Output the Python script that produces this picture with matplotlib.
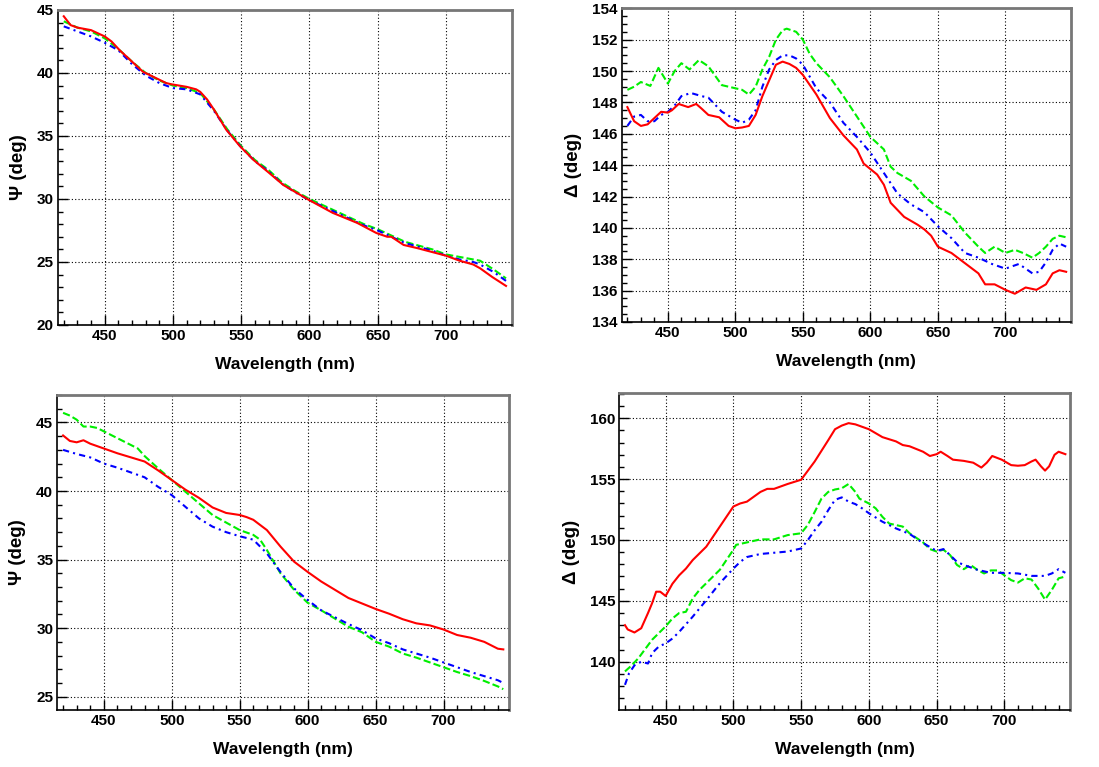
import matplotlib
matplotlib.use("Agg")
import matplotlib.pyplot as plt
from matplotlib.ticker import MultipleLocator

plt.rcParams['font.family'] = ['Liberation Sans', 'DejaVu Sans']
plt.rcParams['font.weight'] = 'bold'

# ---- data ----
# top left: Psi
wl_psi1 = [420, 425, 430, 440, 450, 455, 461, 466, 478, 495, 499, 510, 517, 520, 525, 530, 539, 549, 559, 569,
           581, 600, 617, 635, 649, 657, 660, 669, 679, 700, 710, 720, 725, 734, 744]
psi1_red = [44.5, 43.8, 43.6, 43.4, 42.9, 42.5, 41.8, 41.3, 40.1, 39.2, 39.1, 38.9, 38.7, 38.5, 37.9, 37.1, 35.5,
            34.2, 33.1, 32.2, 31.1, 29.9, 28.9, 28.1, 27.3, 27.0, 27.0, 26.35, 26.1, 25.5, 25.1, 24.8, 24.5, 23.8, 23.1]
wl_psi1b = [420, 430, 440, 450, 460, 470, 480, 490, 500, 510, 520, 530, 540, 550, 560, 570, 580, 590, 600, 620,
            640, 650, 660, 670, 680, 690, 700, 710, 720, 725, 735, 744]
psi1_green = [44.1, 43.6, 43.3, 42.75, 41.9, 40.9, 40.0, 39.4, 39.0, 38.8, 38.4, 37.1, 35.5, 34.2, 33.1, 32.3,
              31.3, 30.6, 30.0, 29.0, 28.0, 27.6, 27.1, 26.6, 26.3, 26.0, 25.6, 25.4, 25.2, 25.1, 24.4, 23.7]
psi1_blue = [43.7, 43.3, 42.9, 42.4, 41.8, 40.7, 39.8, 39.2, 38.8, 38.7, 38.3, 37.0, 35.4, 34.1, 33.0, 32.2,
             31.2, 30.5, 29.9, 28.9, 27.9, 27.5, 27.0, 26.5, 26.2, 25.9, 25.5, 25.2, 25.0, 24.8, 24.2, 23.5]

# top right: Delta
wl_del1g = [420, 425, 430, 437, 443, 450, 455, 460, 466, 473, 480, 490, 500, 505, 510, 515, 520, 525, 530, 535,
            538, 545, 550, 555, 560, 570, 580, 590, 600, 610, 615, 620, 630, 640, 650, 660, 670, 680, 685, 692,
            700, 707, 713, 720, 725, 730, 735, 740, 745]
del1_green = [148.8, 149.0, 149.3, 149.05, 150.2, 149.2, 150.0, 150.5, 150.1, 150.7, 150.3, 149.1, 148.9, 148.8,
              148.5, 149.0, 150.1, 150.9, 152.0, 152.6, 152.7, 152.5, 152.0, 151.1, 150.5, 149.6, 148.4, 147.1,
              145.8, 145.0, 143.9, 143.5, 143.0, 142.0, 141.3, 140.8, 139.7, 138.8, 138.4, 138.8, 138.4, 138.6,
              138.4, 138.1, 138.4, 138.8, 139.3, 139.5, 139.4]
wl_del1b = [420, 425, 430, 435, 440, 445, 450, 455, 460, 467, 475, 480, 490, 500, 505, 510, 515, 520, 525, 530,
            535, 540, 545, 550, 560, 570, 580, 590, 600, 610, 620, 630, 640, 650, 660, 670, 680, 690, 700, 710,
            720, 725, 730, 735, 740, 745]
del1_blue = [146.5, 147.1, 147.2, 146.8, 146.8, 147.2, 147.4, 147.8, 148.4, 148.6, 148.4, 148.3, 147.4, 146.9,
             146.7, 146.9, 147.5, 149.0, 150.1, 150.7, 151.0, 151.0, 150.8, 150.4, 148.9, 148.0, 146.7, 145.8,
             144.8, 143.5, 142.2, 141.5, 141.0, 140.1, 139.35, 138.4, 138.1, 137.7, 137.4, 137.7, 137.1, 137.2,
             137.8, 138.6, 139.0, 138.8]
wl_del1r = [420, 425, 430, 435, 440, 445, 450, 453, 458, 465, 471, 475, 480, 488, 495, 500, 505, 510, 515, 520,
            525, 530, 535, 540, 545, 550, 560, 570, 580, 590, 595, 605, 610, 615, 625, 635, 640, 645, 650, 660,
            670, 680, 685, 692, 700, 707, 715, 723, 730, 735, 740, 745]
del1_red = [147.7, 146.8, 146.5, 146.6, 147.0, 147.4, 147.35, 147.5, 147.9, 147.7, 147.9, 147.6, 147.2, 147.05,
            146.5, 146.35, 146.4, 146.5, 147.2, 148.4, 149.4, 150.4, 150.6, 150.45, 150.2, 149.75, 148.5, 147.0,
            145.9, 145.0, 144.1, 143.4, 142.75, 141.6, 140.7, 140.2, 139.9, 139.5, 138.8, 138.4, 137.75, 137.1,
            136.4, 136.4, 136.05, 135.8, 136.2, 136.05, 136.4, 137.1, 137.3, 137.2]

# bottom left: Psi
wl_psi2r = [420, 425, 430, 435, 440, 450, 460, 470, 480, 490, 500, 510, 520, 530, 540, 550, 555, 560, 570, 580,
            590, 600, 610, 620, 630, 640, 650, 660, 670, 680, 690, 700, 710, 720, 730, 735, 740, 744]
psi2_red = [44.05, 43.65, 43.55, 43.7, 43.45, 43.1, 42.75, 42.45, 42.15, 41.5, 40.8, 40.1, 39.5, 38.8, 38.4,
            38.25, 38.1, 37.9, 37.15, 35.95, 34.85, 34.1, 33.4, 32.8, 32.2, 31.8, 31.4, 31.05, 30.65, 30.35, 30.2,
            29.9, 29.5, 29.3, 29.0, 28.75, 28.5, 28.45]
wl_psi2g = [420, 425, 430, 435, 440, 445, 450, 460, 470, 475, 480, 490, 500, 510, 520, 530, 540, 550, 560, 565,
            570, 580, 590, 600, 610, 620, 630, 640, 650, 660, 670, 680, 690, 700, 710, 720, 730, 740, 744]
psi2_green = [45.7, 45.5, 45.2, 44.7, 44.7, 44.6, 44.35, 43.85, 43.35, 43.1, 42.55, 41.65, 40.8, 39.95, 39.1,
              38.25, 37.7, 37.15, 36.8, 36.45, 35.7, 34.0, 32.8, 31.85, 31.3, 30.7, 30.1, 29.7, 29.0, 28.65,
              28.15, 27.85, 27.5, 27.15, 26.8, 26.5, 26.15, 25.75, 25.55]
wl_psi2b = [420, 430, 440, 450, 460, 470, 480, 490, 500, 510, 520, 530, 540, 550, 560, 570, 580, 590, 600, 610,
            620, 630, 640, 650, 660, 670, 680, 690, 700, 710, 720, 730, 740, 744]
psi2_blue = [43.0, 42.7, 42.45, 42.0, 41.7, 41.35, 41.0, 40.3, 39.7, 38.85, 38.0, 37.4, 37.0, 36.7, 36.45, 35.45,
             34.1, 32.9, 32.05, 31.3, 30.8, 30.3, 29.85, 29.25, 28.9, 28.45, 28.15, 27.85, 27.5, 27.15, 26.8,
             26.5, 26.2, 26.0]

# bottom right: Delta
wl_del2r = [420, 422, 427, 432, 437, 440, 443, 446, 450, 455, 460, 465, 470, 480, 490, 500, 505, 510, 520, 525,
            530, 540, 550, 560, 570, 575, 580, 585, 590, 600, 610, 620, 625, 630, 640, 645, 650, 653, 658, 662,
            670, 677, 683, 687, 691, 698, 705, 710, 715, 720, 723, 727, 730, 733, 737, 740, 745]
del2_red = [143.0, 142.65, 142.4, 142.75, 144.0, 144.8, 145.75, 145.75, 145.4, 146.4, 147.1, 147.65, 148.35,
            149.45, 151.1, 152.75, 153.0, 153.15, 153.95, 154.2, 154.2, 154.6, 154.95, 156.45, 158.2, 159.1,
            159.4, 159.6, 159.5, 159.1, 158.45, 158.1, 157.8, 157.7, 157.25, 156.9, 157.05, 157.25, 156.9,
            156.6, 156.5, 156.35, 155.95, 156.35, 156.9, 156.6, 156.15, 156.1, 156.15, 156.45, 156.6, 156.05,
            155.7, 156.05, 157.0, 157.25, 157.05]
wl_del2g = [420, 425, 430, 440, 450, 455, 460, 465, 470, 475, 480, 490, 500, 502, 510, 520, 530, 540, 550, 555,
            560, 565, 570, 575, 580, 585, 590, 593, 600, 605, 610, 615, 625, 630, 640, 645, 650, 655, 660, 665,
            670, 675, 680, 685, 690, 695, 700, 705, 710, 715, 720, 725, 730, 735, 740, 745]
del2_green = [139.2, 139.7, 140.3, 141.8, 142.9, 143.55, 144.0, 144.1, 145.2, 145.9, 146.45, 147.55, 149.2,
              149.6, 149.8, 150.05, 150.05, 150.4, 150.55, 151.25, 152.3, 153.4, 153.95, 154.15, 154.25, 154.6,
              153.95, 153.4, 153.0, 152.6, 151.9, 151.35, 151.1, 150.55, 149.8, 149.25, 149.05, 149.2, 148.75,
              147.95, 147.6, 147.95, 147.55, 147.25, 147.5, 147.5, 147.1, 146.7, 146.5, 146.85, 146.75, 146.0,
              145.1, 145.9, 146.85, 147.0]
wl_del2b = [420, 423, 427, 432, 437, 440, 445, 450, 455, 460, 470, 480, 490, 500, 505, 510, 520, 530, 540, 550,
            555, 560, 565, 570, 575, 580, 585, 590, 595, 600, 610, 620, 630, 640, 650, 655, 660, 665, 670, 680,
            690, 700, 710, 720, 730, 735, 740, 745]
del2_blue = [138.1, 139.05, 139.7, 140.0, 139.85, 140.7, 141.25, 141.5, 141.9, 142.45, 143.7, 145.05, 146.45,
             147.65, 148.2, 148.6, 148.85, 148.95, 149.05, 149.3, 150.0, 150.8, 151.5, 152.45, 153.3, 153.5,
             153.15, 152.95, 152.6, 152.2, 151.5, 150.95, 150.5, 149.75, 149.1, 149.25, 148.75, 148.2, 147.95,
             147.55, 147.3, 147.3, 147.25, 147.05, 147.05, 147.25, 147.6, 147.3]

RED = '#ff0000'
GREEN = '#00ee00'
BLUE = '#0000ff'
LW = 1.5

fig = plt.figure(figsize=(10.99, 7.67), dpi=100)
ax1 = fig.add_axes([0.0528, 0.5763, 0.4131, 0.4107])
ax2 = fig.add_axes([0.5657, 0.5802, 0.4086, 0.4090])
ax3 = fig.add_axes([0.0522, 0.0743, 0.4112, 0.4107])
ax4 = fig.add_axes([0.5635, 0.0743, 0.4101, 0.4129])


def style(ax, ylab, ylo, yhi, ymaj, ymin):
    ax.set_xlim(415.8, 748.4)
    ax.set_ylim(ylo, yhi)
    ax.xaxis.set_major_locator(MultipleLocator(50))
    ax.xaxis.set_minor_locator(MultipleLocator(10))
    ax.yaxis.set_major_locator(MultipleLocator(ymaj))
    ax.yaxis.set_minor_locator(MultipleLocator(ymin))
    ax.tick_params(which='both', direction='in', top=False, right=False, labelsize=11, pad=3)
    ax.tick_params(which='major', length=7, width=1)
    ax.tick_params(which='minor', length=3.5, width=1)
    ax.grid(True, which='major', color='black', linestyle=(0, (1, 2)), linewidth=0.8)
    ax.set_xlabel('Wavelength (nm)', fontsize=12.5, fontweight='bold', labelpad=10)
    ax.set_ylabel(ylab, fontsize=13.5, fontweight='bold', labelpad=7)
    for s in ['left', 'bottom']:
        ax.spines[s].set_color('black')
        ax.spines[s].set_linewidth(1.2)
    for s in ['top', 'right']:
        ax.spines[s].set_color('#777777')
        ax.spines[s].set_linewidth(2)
    for lab in ax.get_xticklabels() + ax.get_yticklabels():
        lab.set_fontweight('bold')


def draw(ax, xr, yr, xg, yg, xb, yb):
    ax.plot(xg, yg, color=GREEN, linestyle=(0, (3.5, 1.5)), linewidth=LW)
    ax.plot(xb, yb, color=BLUE, linestyle=(0, (3, 2, 1, 2)), linewidth=LW)
    ax.plot(xr, yr, color=RED, linestyle='-', linewidth=LW)


draw(ax1, wl_psi1, psi1_red, wl_psi1b, psi1_green, wl_psi1b, psi1_blue)
style(ax1, 'Ψ (deg)', 20, 45, 5, 1)

draw(ax2, wl_del1r, del1_red, wl_del1g, del1_green, wl_del1b, del1_blue)
style(ax2, 'Δ (deg)', 134, 154, 2, 0.5)

draw(ax3, wl_psi2r, psi2_red, wl_psi2g, psi2_green, wl_psi2b, psi2_blue)
style(ax3, 'Ψ (deg)', 24.03, 47.0, 5, 1)

draw(ax4, wl_del2r, del2_red, wl_del2g, del2_green, wl_del2b, del2_blue)
style(ax4, 'Δ (deg)', 136.03, 162.05, 5, 1)

fig.savefig('out.png', dpi=100)
